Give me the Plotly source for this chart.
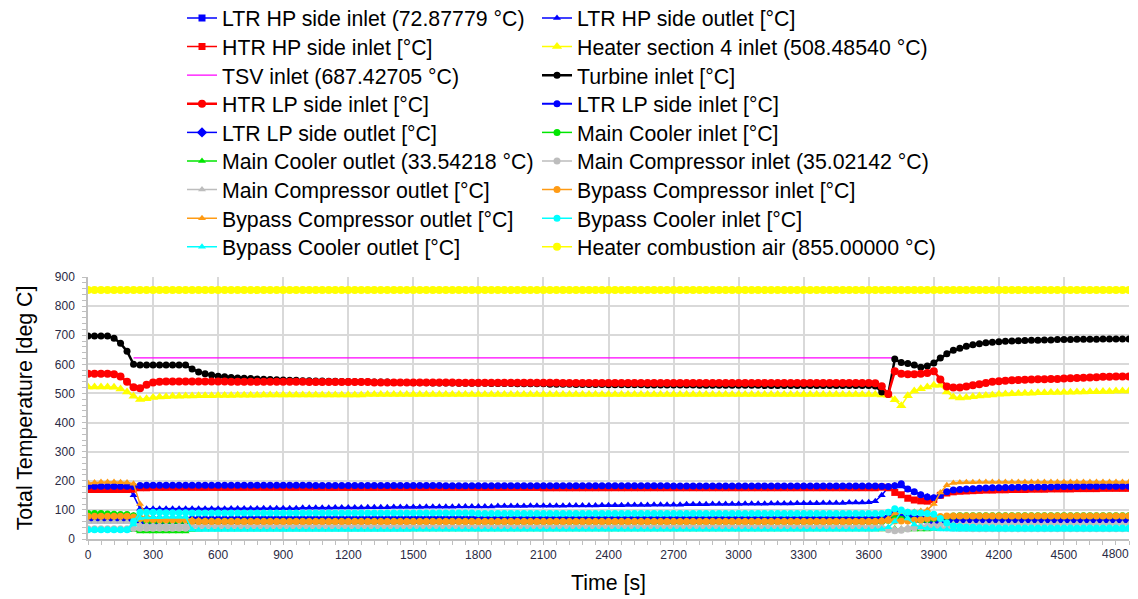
import plotly.graph_objects as go

# sampling grid (s)
TIME_S = list(range(0, 4801, 30))  # 161 samples

LTR_HP_IN = [
    66, 66, 66, 66, 66, 66, 66, 66, 63, 62,
    62, 62, 63, 63, 63, 63, 64, 64, 64, 64,
    64, 64, 64, 64, 64, 65, 65, 65, 65, 65,
    65, 65, 65, 65, 65, 65, 65, 65, 65, 65,
    65, 65, 65, 65, 65, 65, 65, 65, 65, 65,
    65, 65, 65, 65, 65, 65, 65, 65, 65, 65,
    65, 65, 65, 65, 65, 65, 65, 65, 65, 65,
    65, 65, 65, 65, 65, 65, 65, 65, 65, 65,
    65, 65, 65, 65, 65, 65, 65, 65, 65, 65,
    65, 65, 65, 65, 65, 65, 65, 65, 65, 65,
    65, 65, 65, 65, 65, 65, 65, 65, 65, 65,
    65, 65, 65, 65, 65, 65, 65, 65, 65, 65,
    65, 65, 66, 70, 85, 78, 72, 70, 68, 66,
    64, 63, 62, 62, 62, 62, 62, 62, 63, 63,
    63, 63, 63, 63, 63, 64, 64, 64, 64, 64,
    64, 64, 64, 64, 64, 64, 64, 64, 64, 64,
    64]

LTR_HP_OUT = [
    183, 183, 183, 183, 183, 183, 183, 150, 104, 104,
    104, 104, 104, 104, 104, 104, 104, 104, 104, 104,
    104, 104, 105, 105, 105, 105, 105, 106, 106, 106,
    106, 106, 106, 107, 107, 107, 107, 107, 108, 108,
    108, 108, 108, 109, 109, 109, 109, 110, 110, 110,
    110, 110, 111, 111, 111, 111, 111, 112, 112, 112,
    112, 112, 112, 113, 113, 113, 113, 113, 114, 114,
    114, 114, 114, 114, 115, 115, 115, 115, 115, 116,
    116, 116, 116, 117, 117, 117, 117, 118, 118, 118,
    118, 118, 119, 119, 119, 119, 120, 120, 120, 120,
    120, 121, 121, 121, 121, 122, 122, 122, 122, 123,
    123, 123, 123, 124, 124, 124, 124, 125, 125, 125,
    126, 130, 150, 178, 184, 180, 168, 160, 152, 146,
    142, 148, 160, 166, 169, 171, 172, 173, 174, 175,
    175, 176, 176, 177, 177, 177, 178, 178, 178, 179,
    179, 179, 179, 180, 180, 180, 180, 180, 180, 180,
    180]

HTR_HP_IN = [
    170, 170, 170, 170, 170, 170, 170, 171, 176, 176,
    177, 177, 177, 177, 177, 177, 177, 177, 177, 177,
    177, 177, 177, 177, 177, 177, 177, 177, 177, 177,
    177, 177, 177, 177, 177, 177, 177, 177, 177, 177,
    177, 177, 177, 177, 177, 177, 177, 177, 177, 177,
    177, 177, 177, 177, 177, 177, 177, 177, 177, 177,
    177, 177, 177, 177, 177, 177, 177, 177, 177, 177,
    176, 176, 176, 176, 176, 176, 176, 176, 176, 176,
    176, 176, 176, 176, 176, 176, 176, 176, 176, 176,
    176, 176, 176, 176, 176, 176, 176, 176, 176, 176,
    176, 176, 176, 176, 176, 176, 176, 176, 176, 176,
    176, 176, 176, 176, 176, 176, 176, 176, 176, 176,
    176, 176, 178, 176, 160, 152, 140, 134, 131, 130,
    136, 150, 158, 162, 164, 165, 166, 167, 168, 168,
    169, 169, 170, 170, 170, 171, 171, 171, 172, 172,
    172, 172, 173, 173, 173, 173, 174, 174, 174, 174,
    174]

HEATER4_IN = [
    522, 522, 522, 522, 521, 515, 505, 490, 479, 482,
    486, 488, 489, 490, 490, 491, 491, 492, 492, 492,
    493, 493, 493, 494, 494, 494, 494, 495, 495, 495,
    495, 495, 495, 495, 495, 495, 495, 495, 495, 495,
    495, 495, 495, 496, 496, 496, 496, 496, 496, 496,
    496, 496, 496, 496, 496, 496, 496, 496, 496, 496,
    496, 496, 496, 496, 496, 496, 496, 496, 496, 496,
    496, 496, 496, 496, 496, 496, 496, 496, 496, 496,
    496, 496, 496, 496, 496, 496, 496, 496, 496, 496,
    496, 496, 496, 496, 496, 496, 496, 496, 496, 496,
    496, 496, 496, 496, 496, 496, 496, 496, 496, 496,
    496, 496, 496, 496, 496, 496, 496, 496, 496, 496,
    496, 496, 495, 494, 478, 458, 492, 508, 516, 522,
    528, 528, 505, 488, 484, 486, 489, 491, 493, 495,
    497, 498, 499, 500, 501, 501, 502, 502, 503, 503,
    504, 504, 505, 505, 506, 506, 507, 507, 508, 508,
    508.5]

TSV_TIME = [210, 3720]
TSV_IN = [622, 622]

TURBINE_IN = [
    697, 697, 697, 697, 690, 672, 645, 600, 598, 598,
    598, 598, 598, 598, 598, 598, 584, 574, 568, 563,
    559, 557, 555, 553, 552, 551, 550, 549, 548, 547,
    546, 545, 545, 544, 544, 543, 543, 542, 542, 541,
    541, 540, 540, 540, 539, 539, 539, 538, 538, 538,
    537, 537, 537, 536, 536, 536, 536, 535, 535, 535,
    535, 535, 534, 534, 534, 534, 533, 533, 533, 533,
    533, 532, 532, 532, 532, 531, 531, 531, 531, 531,
    530, 530, 530, 530, 530, 530, 529, 529, 529, 529,
    529, 529, 529, 529, 528, 528, 528, 528, 528, 528,
    528, 528, 528, 528, 527, 527, 527, 527, 527, 527,
    527, 527, 527, 527, 527, 527, 527, 527, 527, 527,
    527, 526, 505, 497, 618, 606, 603, 598, 590, 594,
    605, 622, 636, 648, 655, 662, 667, 671, 674, 676,
    678, 679, 680, 681, 682, 683, 683, 684, 684, 685,
    685, 685, 686, 686, 686, 686, 687, 687, 687, 687,
    687]

HTR_LP_IN = [
    568, 568, 568, 568, 566, 558, 540, 521, 518, 530,
    538, 540, 541, 541, 541, 541, 541, 541, 541, 541,
    541, 541, 540, 540, 540, 540, 540, 540, 540, 540,
    540, 540, 540, 540, 539, 539, 539, 539, 539, 539,
    539, 539, 539, 539, 538, 538, 538, 538, 538, 538,
    538, 538, 538, 538, 538, 538, 538, 537, 537, 537,
    537, 537, 537, 537, 537, 537, 537, 537, 537, 537,
    537, 537, 537, 536, 536, 536, 536, 536, 536, 536,
    536, 536, 536, 536, 536, 536, 536, 536, 536, 536,
    536, 536, 536, 536, 536, 536, 536, 536, 536, 536,
    536, 536, 536, 536, 536, 536, 536, 536, 536, 536,
    536, 536, 536, 536, 536, 536, 536, 536, 536, 536,
    536, 535, 525, 498, 576, 568, 566, 566, 568, 570,
    576, 548, 524, 520, 520, 524, 528, 532, 536, 540,
    542, 544, 545, 546, 547, 548, 549, 549, 550, 550,
    551, 552, 553, 554, 555, 556, 557, 557, 558, 558,
    558]

LTR_LP_IN = [
    181, 181, 181, 181, 181, 181, 181, 180, 184, 185,
    185, 185, 185, 185, 185, 185, 185, 185, 185, 185,
    185, 185, 185, 185, 185, 185, 185, 185, 185, 185,
    185, 185, 185, 185, 185, 184, 184, 184, 184, 184,
    184, 184, 184, 184, 184, 184, 184, 184, 184, 184,
    184, 184, 184, 184, 184, 183, 183, 183, 183, 183,
    183, 183, 183, 183, 183, 183, 183, 183, 183, 183,
    183, 183, 183, 183, 183, 183, 183, 183, 183, 183,
    183, 183, 183, 183, 183, 183, 183, 183, 183, 183,
    182, 182, 182, 182, 182, 182, 182, 182, 182, 182,
    182, 182, 182, 182, 182, 182, 182, 182, 182, 182,
    182, 182, 182, 182, 182, 182, 182, 182, 182, 182,
    182, 182, 181, 180, 183, 190, 172, 162, 152, 144,
    142, 150, 162, 168, 170, 172, 173, 174, 175, 176,
    176, 177, 177, 178, 178, 178, 179, 179, 179, 180,
    180, 180, 180, 181, 181, 181, 181, 181, 181, 181,
    181]

LTR_LP_OUT = [
    76, 76, 76, 76, 76, 76, 76, 74, 70, 68,
    68, 68, 68, 68, 68, 68, 68, 68, 68, 68,
    68, 68, 68, 68, 68, 68, 68, 68, 68, 68,
    68, 68, 68, 68, 68, 68, 68, 68, 68, 68,
    68, 68, 68, 68, 68, 68, 68, 68, 68, 68,
    69, 69, 69, 69, 69, 69, 69, 69, 69, 69,
    69, 69, 69, 69, 69, 69, 69, 69, 69, 69,
    69, 69, 69, 69, 69, 69, 69, 69, 69, 69,
    69, 69, 69, 69, 69, 69, 69, 69, 69, 69,
    69, 69, 69, 69, 69, 69, 69, 69, 69, 69,
    69, 69, 69, 69, 69, 69, 69, 69, 69, 69,
    69, 69, 69, 69, 69, 69, 69, 69, 69, 69,
    69, 69, 70, 74, 92, 88, 80, 74, 70, 68,
    66, 65, 65, 65, 65, 65, 65, 65, 65, 65,
    65, 65, 65, 65, 65, 65, 65, 65, 65, 65,
    65, 65, 65, 65, 65, 65, 65, 65, 65, 65,
    65]

MAIN_COOLER_IN = [
    88, 88, 88, 86, 85, 84, 84, 80, 70, 62,
    62, 62, 61, 61, 61, 61, 60, 60, 60, 60,
    60, 60, 60, 60, 60, 60, 60, 60, 60, 60,
    60, 60, 60, 60, 60, 60, 60, 60, 60, 60,
    60, 60, 60, 60, 60, 60, 60, 60, 60, 60,
    60, 60, 60, 60, 60, 60, 60, 60, 60, 60,
    59, 59, 59, 59, 59, 59, 59, 59, 59, 59,
    59, 59, 59, 59, 59, 59, 59, 59, 59, 59,
    59, 59, 59, 59, 59, 59, 59, 59, 59, 59,
    59, 59, 59, 59, 59, 59, 59, 59, 59, 59,
    59, 59, 59, 59, 59, 59, 59, 59, 59, 59,
    59, 59, 59, 59, 59, 59, 59, 59, 59, 59,
    59, 59, 60, 64, 70, 68, 66, 64, 64, 66,
    70, 74, 77, 79, 80, 80, 80, 80, 80, 80,
    80, 80, 80, 80, 80, 80, 80, 80, 80, 80,
    80, 80, 80, 80, 80, 80, 80, 80, 80, 80,
    80]

MAIN_COOLER_OUT = [
    33, 33, 33, 33, 33, 33, 33, 30, 26, 26,
    26, 26, 26, 26, 26, 26, 31, 32, 33, 33,
    33, 33, 33, 33, 33, 33, 33, 33, 33, 33,
    33, 33, 33, 33, 33, 33, 33, 33, 33, 33,
    33, 33, 33, 33, 33, 33, 33, 33, 33, 33,
    33, 33, 33, 33, 33, 33, 33, 33, 33, 33,
    33, 33, 33, 33, 33, 33, 33, 33, 33, 33,
    33, 33, 33, 33, 33, 33, 33, 33, 33, 33,
    33, 33, 33, 33, 33, 33, 33, 33, 33, 33,
    33, 33, 33, 33, 33, 33, 33, 33, 33, 33,
    33, 33, 33, 33, 33, 33, 33, 33, 33, 33,
    33, 33, 33, 33, 33, 33, 33, 33, 33, 33,
    33, 33, 33, 34, 36, 34, 33, 33, 33, 33,
    33.5, 33.5, 33.5, 33.5, 33.5, 33.5, 33.5, 33.5, 33.5, 33.5,
    33.5, 33.5, 33.5, 33.5, 33.5, 33.5, 33.5, 33.5, 33.5, 33.5,
    33.5, 33.5, 33.5, 33.5, 33.5, 33.5, 33.5, 33.5, 33.5, 33.5,
    33.5]

MAIN_COMP_IN = [
    35, 35, 35, 35, 35, 35, 35, 36, 37, 37,
    37, 37, 37, 37, 37, 37, 41, 41, 41, 41,
    41, 41, 41, 41, 41, 41, 41, 41, 41, 41,
    41, 41, 41, 41, 41, 41, 41, 41, 41, 41,
    41, 41, 41, 41, 41, 41, 41, 41, 41, 41,
    41, 41, 41, 41, 41, 40, 40, 40, 40, 40,
    40, 40, 40, 40, 40, 40, 40, 40, 40, 40,
    40, 40, 40, 40, 40, 40, 40, 40, 40, 40,
    40, 40, 40, 40, 40, 40, 40, 40, 40, 40,
    40, 40, 40, 40, 40, 40, 40, 40, 40, 40,
    40, 40, 40, 40, 40, 40, 40, 40, 40, 40,
    40, 40, 40, 40, 40, 40, 40, 40, 40, 40,
    40, 40, 38, 32, 28, 30, 34, 38, 40, 40,
    40, 39, 38, 37, 36, 36, 35, 35, 35, 35,
    35, 35, 35, 35, 35, 35, 35, 35, 35, 35,
    35, 35, 35, 35, 35, 35, 35, 35, 35, 35,
    35]

MAIN_COMP_OUT = [
    58, 58, 58, 58, 58, 58, 58, 55, 50, 48,
    48, 48, 48, 48, 48, 48, 46, 46, 46, 46,
    46, 46, 46, 46, 46, 46, 46, 46, 46, 46,
    46, 46, 46, 46, 46, 46, 46, 46, 46, 46,
    46, 46, 46, 46, 46, 46, 46, 46, 46, 46,
    45, 45, 45, 45, 45, 45, 45, 45, 45, 45,
    45, 45, 45, 45, 45, 45, 45, 45, 45, 45,
    45, 45, 45, 45, 45, 45, 45, 45, 45, 45,
    45, 45, 45, 45, 45, 45, 45, 45, 45, 45,
    45, 45, 45, 45, 45, 45, 45, 45, 45, 45,
    45, 45, 45, 45, 45, 45, 45, 45, 45, 45,
    45, 45, 45, 45, 45, 45, 45, 45, 45, 45,
    45, 45, 44, 40, 34, 36, 40, 44, 46, 48,
    50, 52, 52, 52, 52, 52, 52, 52, 52, 52,
    52, 52, 52, 52, 52, 52, 52, 52, 52, 52,
    52, 52, 52, 52, 52, 52, 52, 52, 52, 52,
    52]

BYPASS_COMP_IN = [
    78, 78, 78, 78, 78, 78, 78, 76, 70, 68,
    67, 66, 66, 66, 66, 66, 61, 60, 60, 60,
    60, 60, 60, 60, 60, 60, 60, 60, 60, 60,
    60, 60, 60, 60, 60, 60, 60, 60, 60, 60,
    60, 60, 60, 60, 60, 60, 60, 60, 60, 60,
    60, 60, 60, 60, 60, 60, 60, 60, 60, 60,
    60, 60, 60, 60, 60, 60, 60, 60, 60, 60,
    60, 60, 60, 60, 60, 60, 60, 60, 60, 60,
    60, 60, 60, 60, 60, 60, 60, 60, 60, 60,
    60, 60, 60, 60, 60, 60, 60, 60, 60, 60,
    60, 60, 60, 60, 60, 60, 60, 60, 60, 60,
    60, 60, 60, 60, 60, 60, 60, 60, 60, 60,
    60, 60, 62, 64, 62, 62, 62, 64, 66, 70,
    74, 77, 79, 79, 79, 79, 79, 79, 79, 79,
    79, 79, 79, 79, 79, 79, 79, 79, 79, 79,
    79, 79, 79, 79, 79, 79, 79, 79, 79, 79,
    79]

BYPASS_COMP_OUT = [
    192, 194, 196, 196, 196, 195, 194, 190, 120, 80,
    74, 72, 70, 70, 70, 70, 66, 64, 63, 63,
    62, 62, 62, 62, 62, 62, 62, 62, 62, 62,
    62, 62, 62, 62, 62, 62, 62, 62, 62, 62,
    62, 62, 62, 62, 62, 62, 62, 62, 62, 62,
    62, 62, 62, 62, 62, 62, 62, 62, 62, 62,
    62, 62, 62, 62, 62, 62, 62, 62, 62, 62,
    62, 62, 62, 62, 62, 62, 62, 62, 62, 62,
    62, 62, 62, 62, 62, 62, 62, 62, 62, 62,
    62, 62, 62, 62, 62, 62, 62, 62, 62, 62,
    62, 62, 62, 62, 62, 62, 62, 62, 62, 62,
    62, 62, 62, 62, 62, 62, 62, 62, 62, 62,
    62, 62, 64, 70, 88, 92, 93, 94, 96, 100,
    120, 160, 185, 192, 194, 195, 195, 196, 196, 196,
    196, 196, 196, 196, 196, 196, 196, 196, 196, 196,
    196, 196, 196, 196, 196, 196, 196, 196, 196, 196,
    196]

BYPASS_COOLER_IN = [
    32, 32, 32, 32, 32, 32, 32, 60, 92, 92,
    92, 91, 90, 90, 90, 90, 89, 89, 89, 89,
    89, 89, 89, 89, 89, 89, 89, 89, 89, 89,
    89, 89, 89, 89, 89, 89, 89, 89, 89, 89,
    89, 89, 89, 89, 89, 89, 89, 89, 89, 89,
    89, 89, 89, 89, 89, 89, 89, 89, 89, 89,
    88, 88, 88, 88, 88, 88, 88, 88, 88, 88,
    88, 88, 88, 88, 88, 88, 88, 88, 88, 88,
    88, 88, 88, 88, 88, 88, 88, 88, 88, 88,
    88, 88, 88, 88, 88, 88, 88, 88, 88, 88,
    88, 88, 88, 88, 88, 88, 88, 88, 88, 88,
    88, 88, 88, 88, 88, 88, 88, 88, 88, 88,
    88, 88, 88, 92, 104, 100, 92, 90, 89, 88,
    85, 70, 55, 45, 42, 40, 40, 39, 39, 39,
    38, 38, 38, 38, 38, 38, 38, 38, 38, 38,
    38, 38, 38, 38, 38, 38, 38, 38, 38, 38,
    38]

BYPASS_COOLER_OUT = [
    30, 30, 30, 30, 30, 30, 30, 50, 72, 74,
    75, 75, 76, 76, 76, 76, 32, 31, 31, 31,
    31, 31, 31, 31, 31, 31, 31, 31, 31, 31,
    31, 31, 31, 31, 31, 31, 31, 31, 31, 31,
    31, 31, 31, 31, 31, 31, 31, 31, 31, 31,
    32, 32, 32, 32, 32, 32, 32, 32, 32, 32,
    32, 32, 32, 32, 32, 32, 32, 32, 32, 32,
    32, 32, 32, 32, 32, 32, 32, 32, 32, 32,
    32, 32, 32, 32, 32, 32, 32, 32, 32, 32,
    32, 32, 32, 32, 32, 32, 32, 32, 32, 32,
    32, 32, 32, 32, 32, 32, 32, 32, 32, 32,
    32, 32, 32, 32, 32, 32, 32, 32, 32, 32,
    32, 32, 34, 40, 60, 95, 70, 50, 40, 36,
    34, 33, 33, 32, 32, 32, 32, 32, 32, 32,
    32, 32, 32, 32, 32, 32, 32, 32, 32, 32,
    32, 32, 32, 32, 32, 32, 32, 32, 32, 32,
    32]

COMBUSTION_AIR = [
    855, 855, 855, 855, 855, 855, 855, 855, 855, 855,
    855, 855, 855, 855, 855, 855, 855, 855, 855, 855,
    855, 855, 855, 855, 855, 855, 855, 855, 855, 855,
    855, 855, 855, 855, 855, 855, 855, 855, 855, 855,
    855, 855, 855, 855, 855, 855, 855, 855, 855, 855,
    855, 855, 855, 855, 855, 855, 855, 855, 855, 855,
    855, 855, 855, 855, 855, 855, 855, 855, 855, 855,
    855, 855, 855, 855, 855, 855, 855, 855, 855, 855,
    855, 855, 855, 855, 855, 855, 855, 855, 855, 855,
    855, 855, 855, 855, 855, 855, 855, 855, 855, 855,
    855, 855, 855, 855, 855, 855, 855, 855, 855, 855,
    855, 855, 855, 855, 855, 855, 855, 855, 855, 855,
    855, 855, 855, 855, 855, 855, 855, 855, 855, 855,
    855, 855, 855, 855, 855, 855, 855, 855, 855, 855,
    855, 855, 855, 855, 855, 855, 855, 855, 855, 855,
    855, 855, 855, 855, 855, 855, 855, 855, 855, 855,
    855]

X_TICKS = [0, 300, 600, 900, 1200, 1500, 1800, 2100, 2400, 2700, 3000,
           3300, 3600, 3900, 4200, 4500, 4800]
# the last label is drawn right-aligned at the axis end (as in the reference)
X_TICK_LABELS = ["0", "300", "600", "900", "1200", "1500", "1800", "2100",
                 "2400", "2700", "3000", "3300", "3600", "3900", "4200",
                 "4500", ""]
X_LAST_LABEL = "4800"
Y_TICKS = [0, 100, 200, 300, 400, 500, 600, 700, 800, 900]

BLUE = "#0000FF"
RED = "#FF0000"
YELLOW = "#FFFF00"
MAGENTA = "#FF00FF"
BLACK = "#000000"
GREEN = "#00E600"
GRAY = "#BDBDBD"
ORANGE = "#FF9B14"
CYAN = "#00FFFF"

# (name, x, y, color, symbol, size, line width)
series = [
    ("LTR HP side inlet (72.87779 °C)", TIME_S, LTR_HP_IN, BLUE, "square", 7, 1.5),
    ("LTR HP side outlet [°C]", TIME_S, LTR_HP_OUT, BLUE, "triangle-up", 7, 1.5),
    ("HTR HP side inlet [°C]", TIME_S, HTR_HP_IN, RED, "square", 7, 1.5),
    ("Heater section 4 inlet (508.48540 °C)", TIME_S, HEATER4_IN, YELLOW, "triangle-up", 9, 1.5),
    ("TSV inlet (687.42705 °C)", TSV_TIME, TSV_IN, MAGENTA, None, 0, 1.2),
    ("Turbine inlet [°C]", TIME_S, TURBINE_IN, BLACK, "circle", 7, 2.5),
    ("HTR LP side inlet [°C]", TIME_S, HTR_LP_IN, RED, "circle", 8, 2.5),
    ("LTR LP side inlet [°C]", TIME_S, LTR_LP_IN, BLUE, "circle", 7, 2.0),
    ("LTR LP side outlet [°C]", TIME_S, LTR_LP_OUT, BLUE, "diamond", 8, 1.5),
    ("Main Cooler inlet [°C]", TIME_S, MAIN_COOLER_IN, GREEN, "circle", 7, 1.5),
    ("Main Cooler outlet (33.54218 °C)", TIME_S, MAIN_COOLER_OUT, GREEN, "triangle-up", 7, 1.5),
    ("Main Compressor inlet (35.02142 °C)", TIME_S, MAIN_COMP_IN, GRAY, "circle", 7, 1.5),
    ("Main Compressor outlet [°C]", TIME_S, MAIN_COMP_OUT, GRAY, "triangle-up", 7, 1.5),
    ("Bypass Compressor inlet [°C]", TIME_S, BYPASS_COMP_IN, ORANGE, "circle", 7, 1.5),
    ("Bypass Compressor outlet [°C]", TIME_S, BYPASS_COMP_OUT, ORANGE, "triangle-up", 7, 1.5),
    ("Bypass Cooler inlet [°C]", TIME_S, BYPASS_COOLER_IN, CYAN, "circle", 7, 1.5),
    ("Bypass Cooler outlet [°C]", TIME_S, BYPASS_COOLER_OUT, CYAN, "triangle-up", 7, 1.5),
    ("Heater combustion air (855.00000 °C)", TIME_S, COMBUSTION_AIR, YELLOW, "circle", 8, 1.5),
]

for s in series:
    assert len(s[1]) == len(s[2]), (s[0], len(s[1]), len(s[2]))

# The page body has an 8 px margin, so the figure is drawn 8 px smaller and
# all positions below are expressed in figure pixels (page pixels - 8).
OFF = 8
W, H = 1138 - OFF, 599 - OFF
ML, MT = 88 - OFF, 277 - OFF
MR, MB = 1138 - 1129, 599 - 539
PW, PH = W - ML - MR, H - MT - MB

FONT = "Liberation Sans, Arial, sans-serif"
LEG_FONT = 21.3
LEG_TEXT_X = [222, 577]      # page x of legend text start, two columns
LEG_ROW0 = 18                # page y of first legend row centre
LEG_ROW_STEP = 28.6
LEG_ITEM_H = LEG_FONT * 1.3 + 3

fig = go.Figure()
legend_layout = {}
for i, (name, xs, ys, color, symbol, size, lw) in enumerate(series):
    leg_id = "legend" if i == 0 else f"legend{i + 1}"
    col, row = i % 2, i // 2
    fig_left = LEG_TEXT_X[col] - 40 - OFF
    fig_top = LEG_ROW0 + row * LEG_ROW_STEP - 5 - LEG_ITEM_H / 2 - OFF
    legend_layout[leg_id] = dict(
        x=(fig_left - ML) / PW, xref="paper", xanchor="left",
        y=(H - MB - fig_top) / PH, yref="paper", yanchor="top",
        font=dict(family=FONT, size=LEG_FONT, color="black"),
        bgcolor="rgba(0,0,0,0)", borderwidth=0, itemwidth=30,
    )
    if symbol is None:
        fig.add_trace(go.Scatter(x=xs, y=ys, name=name, mode="lines",
                                 line=dict(color=color, width=lw), legend=leg_id))
    else:
        fig.add_trace(go.Scatter(x=xs, y=ys, name=name, mode="lines+markers",
                                 line=dict(color=color, width=lw),
                                 marker=dict(color=color, symbol=symbol, size=size,
                                             line=dict(width=0)),
                                 legend=leg_id))

TICKFONT = dict(family=FONT, size=12, color="#2A2A44")
GRID = "#D9D9D9"
AXLINE = "#BFBFBF"

fig.add_annotation(
    x=X_TICKS[-1], xref="x", y=0, yref="paper", text=X_LAST_LABEL,
    showarrow=False, xanchor="right", yanchor="top", xshift=2, yshift=-6,
    font=TICKFONT,
)

fig.update_layout(
    width=W, height=H,
    margin=dict(l=ML, r=MR, t=MT, b=MB, autoexpand=False),
    paper_bgcolor="white", plot_bgcolor="white",
    font=dict(family=FONT, color="black"),
    showlegend=True,
    xaxis=dict(
        range=[0, 4800], tickmode="array", tickvals=X_TICKS,
        ticktext=X_TICK_LABELS, tickangle=0,
        showgrid=True, gridcolor=GRID, gridwidth=1.5,
        showline=True, linecolor=AXLINE, linewidth=1.5,
        ticks="outside", ticklen=4, tickcolor=AXLINE,
        minor=dict(dtick=60, tick0=0, ticks="outside", ticklen=4,
                   tickcolor=AXLINE, showgrid=False),
        tickfont=TICKFONT, zeroline=False,
        title=dict(text="Time [s]", font=dict(family=FONT, size=21.3, color="black"),
                   standoff=14),
        automargin=False,
    ),
    yaxis=dict(
        range=[0, 900], tickmode="array", tickvals=Y_TICKS,
        ticktext=[str(v) for v in Y_TICKS], ticklabelstandoff=5,
        showgrid=True, gridcolor=GRID, gridwidth=1.5,
        showline=True, linecolor=AXLINE, linewidth=1.5,
        ticks="outside", ticklen=4, tickcolor=AXLINE,
        minor=dict(dtick=20, tick0=0, ticks="outside", ticklen=4,
                   tickcolor=AXLINE, showgrid=False),
        tickfont=TICKFONT, zeroline=False,
        title=dict(text="Total Temperature [deg C]",
                   font=dict(family=FONT, size=21.3, color="black"), standoff=16),
        automargin=False,
    ),
    **legend_layout,
)

fig.write_html("out.html")
